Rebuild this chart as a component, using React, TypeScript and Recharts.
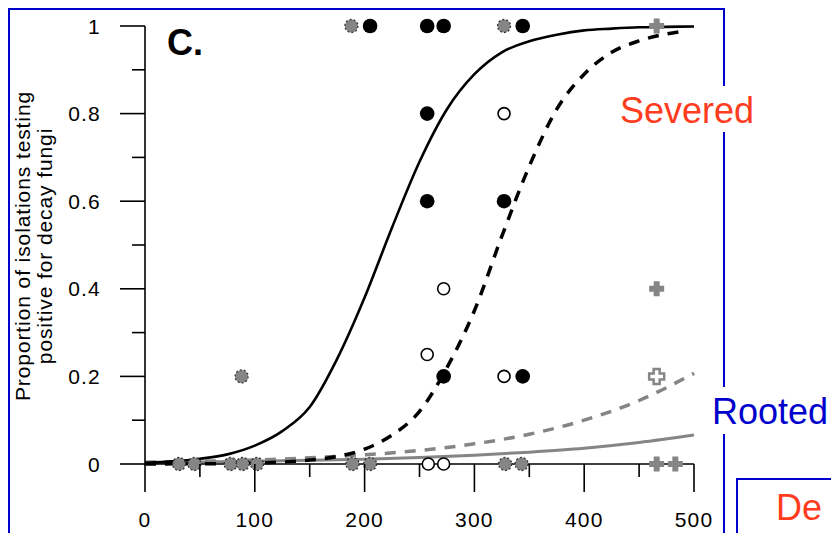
import React from 'react';
import { ComposedChart, Line, Scatter, XAxis, YAxis } from 'recharts';

// ---- tick definitions ----
const xTicks = [0, 50, 100, 150, 200, 250, 300, 350, 400, 450, 500];
const xTickLabels = ['0', '', '100', '', '200', '', '300', '', '400', '', '500'];
const yTicks = [0, 0.1, 0.2, 0.3, 0.4, 0.5, 0.6, 0.7, 0.8, 0.9, 1];
const yTickLabels = ['0', '', '0.2', '', '0.4', '', '0.6', '', '0.8', '', '1'];

// ---- fitted curves ----
const severedSolidX = [0, 25, 50, 75, 100, 125, 150, 175, 200, 225, 250, 275, 300, 325, 350, 375, 400, 425, 450, 475, 500];
const severedSolidY = [0.003, 0.006, 0.012, 0.022, 0.042, 0.075, 0.13, 0.24, 0.38, 0.54, 0.69, 0.81, 0.89, 0.94, 0.965, 0.98, 0.99, 0.994, 0.997, 0.998, 0.999];

const severedDashX = [0, 25, 50, 75, 100, 125, 150, 175, 200, 225, 250, 275, 300, 325, 350, 375, 400, 425, 450, 475, 490];
const severedDashY = [0.0002, 0.0003, 0.0006, 0.001, 0.002, 0.0045, 0.009, 0.017, 0.034, 0.066, 0.12, 0.22, 0.35, 0.52, 0.68, 0.81, 0.89, 0.94, 0.966, 0.982, 0.988];

const rootedDashX = [0, 50, 100, 150, 200, 250, 300, 350, 400, 450, 500];
const rootedDashY = [0.004, 0.006, 0.009, 0.014, 0.021, 0.031, 0.046, 0.068, 0.1, 0.145, 0.207];

const rootedSolidX = [0, 100, 200, 250, 300, 350, 400, 450, 500];
const rootedSolidY = [0.003, 0.006, 0.011, 0.015, 0.02, 0.027, 0.036, 0.049, 0.066];

// ---- observations ----
const blackFilledX = [205, 257, 272, 344, 257, 257, 327, 272, 344];
const blackFilledY = [1, 1, 1, 1, 0.8, 0.6, 0.6, 0.2, 0.2];

const openBlackX = [327, 272, 257, 327, 258, 272];
const openBlackY = [0.8, 0.4, 0.25, 0.2, 0, 0];

const grayDotX = [188, 327, 88, 31, 45, 78, 89, 102, 189, 205, 328, 343];
const grayDotY = [1, 1, 0.2, 0, 0, 0, 0, 0, 0, 0, 0, 0];

const grayPlusX = [466, 466, 466, 483];
const grayPlusY = [1, 0.4, 0, 0];

const grayOpenPlusX = [466];
const grayOpenPlusY = [0.2];

const zip = (xs: number[], ys: number[]) => xs.map((x, i) => ({ x, y: ys[i] }));

const severedSolid = zip(severedSolidX, severedSolidY);
const severedDash = zip(severedDashX, severedDashY);
const rootedDash = zip(rootedDashX, rootedDashY);
const rootedSolid = zip(rootedSolidX, rootedSolidY);
const blackFilled = zip(blackFilledX, blackFilledY);
const openBlack = zip(openBlackX, openBlackY);
const grayDot = zip(grayDotX, grayDotY);
const grayPlus = zip(grayPlusX, grayPlusY);
const grayOpenPlus = zip(grayOpenPlusX, grayOpenPlusY);

const FONT = '"Liberation Sans", Arial, sans-serif';
const GRAY = '#858585';
const BLUE = '#0000cc';
const RED = '#ff3c1e';

const XTick = (props: any) => {
  const { x, y, payload } = props;
  const idx = xTicks.indexOf(payload.value);
  const label = xTickLabels[idx] ?? '';
  const major = label !== '';
  return (
    <g>
      <line x1={x} x2={x} y1={y} y2={y + (major ? 28 : 13)} stroke="#000" strokeWidth={1.6} />
      {major && (
        <text x={x} y={y + 63} textAnchor="middle" fontFamily={FONT} fontSize={21} letterSpacing={1.2} fill="#000">
          {label}
        </text>
      )}
    </g>
  );
};

const YTick = (props: any) => {
  const { x, y, payload } = props;
  const idx = yTicks.findIndex((t) => Math.abs(t - payload.value) < 1e-6);
  const label = yTickLabels[idx] ?? '';
  const major = label !== '';
  return (
    <g>
      <line x1={x} x2={x - (major ? 25 : 13)} y1={y} y2={y} stroke="#000" strokeWidth={1.6} />
      {major && (
        <text x={x - 44} y={y + 7.5} textAnchor="end" fontFamily={FONT} fontSize={21} letterSpacing={1.2} fill="#000">
          {label}
        </text>
      )}
    </g>
  );
};

const BlackDot = (p: any) => <circle cx={p.cx} cy={p.cy} r={7.3} fill="#000" />;
const OpenDot = (p: any) => <circle cx={p.cx} cy={p.cy} r={6} fill="#fff" stroke="#000" strokeWidth={1.6} />;
const GrayDot = (p: any) => (
  <circle cx={p.cx} cy={p.cy} r={6.5} fill={GRAY} stroke="#333" strokeWidth={1.3} strokeDasharray="2 2" />
);
const plusPath = (cx: number, cy: number) => {
  const a = 7.5, b = 3;
  return `M${cx - b},${cy - a} H${cx + b} V${cy - b} H${cx + a} V${cy + b} H${cx + b} V${cy + a} H${cx - b} V${cy + b} H${cx - a} V${cy - b} H${cx - b} Z`;
};
const GrayPlus = (p: any) => <path d={plusPath(p.cx, p.cy)} fill={GRAY} />;
const GrayOpenPlus = (p: any) => <path d={plusPath(p.cx, p.cy)} fill="#fff" stroke={GRAY} strokeWidth={2.5} />;

export default function App() {
  return (
    <div style={{ position: 'absolute', left: 0, top: 0, width: 831, height: 533, background: '#fff' }}>
      <ComposedChart width={831} height={533} margin={{ top: 26, right: 137, bottom: 9, left: 45 }}>
        <XAxis
          type="number"
          dataKey="x"
          domain={[0, 500]}
          ticks={xTicks}
          interval={0}
          tick={<XTick />}
          tickLine={false}
          tickSize={0}
          tickMargin={0}
          height={60}
          axisLine={{ stroke: '#000', strokeWidth: 1.6 }}
        />
        <YAxis
          type="number"
          domain={[0, 1]}
          ticks={yTicks}
          interval={0}
          tick={<YTick />}
          tickLine={false}
          tickSize={0}
          tickMargin={0}
          width={100}
          axisLine={{ stroke: '#000', strokeWidth: 1.6 }}
        />
        <Line data={rootedSolid} dataKey="y" type="monotone" stroke={GRAY} strokeWidth={3} dot={false} activeDot={false} isAnimationActive={false} />
        <Line data={rootedDash} dataKey="y" type="monotone" stroke={GRAY} strokeWidth={3.5} strokeDasharray="11 9" dot={false} activeDot={false} isAnimationActive={false} />
        <Line data={severedSolid} dataKey="y" type="monotone" stroke="#000" strokeWidth={2.6} dot={false} activeDot={false} isAnimationActive={false} />
        <Line data={severedDash} dataKey="y" type="monotone" stroke="#000" strokeWidth={3.5} strokeDasharray="11 9" dot={false} activeDot={false} isAnimationActive={false} />
        <Scatter data={grayDot} dataKey="y" shape={<GrayDot />} isAnimationActive={false} />
        <Scatter data={blackFilled} dataKey="y" shape={<BlackDot />} isAnimationActive={false} />
        <Scatter data={openBlack} dataKey="y" shape={<OpenDot />} isAnimationActive={false} />
        <Scatter data={grayPlus} dataKey="y" shape={<GrayPlus />} isAnimationActive={false} />
        <Scatter data={grayOpenPlus} dataKey="y" shape={<GrayOpenPlus />} isAnimationActive={false} />
      </ComposedChart>
      <svg width={831} height={533} style={{ position: 'absolute', left: 0, top: 0, pointerEvents: 'none' }}>
        {/* frame lines */}
        <line x1={9} x2={725} y1={9} y2={9} stroke={BLUE} strokeWidth={2} />
        <line x1={9} x2={9} y1={8} y2={533} stroke={BLUE} strokeWidth={2} />
        <line x1={724} x2={724} y1={8} y2={86} stroke={BLUE} strokeWidth={2} />
        <line x1={724} x2={724} y1={132} y2={387} stroke={BLUE} strokeWidth={2} />
        <line x1={724} x2={724} y1={434} y2={533} stroke={BLUE} strokeWidth={2} />
        <line x1={737} x2={831} y1={479} y2={479} stroke={BLUE} strokeWidth={2} />
        <line x1={737} x2={737} y1={478} y2={533} stroke={BLUE} strokeWidth={2} />
        {/* panel letter */}
        <text x={167} y={55} fontFamily={FONT} fontSize={36} fontWeight="bold" fill="#000">C.</text>
        {/* y-axis title */}
        <text x={30} y={246} transform="rotate(-90 30 246)" textAnchor="middle" fontFamily={FONT} fontSize={21} letterSpacing={0.9} fill="#000">
          Proportion of isolations testing
        </text>
        <text x={52} y={246} transform="rotate(-90 52 246)" textAnchor="middle" fontFamily={FONT} fontSize={21} letterSpacing={0.9} fill="#000">
          positive for decay fungi
        </text>
        {/* annotations */}
        <text x={620} y={123} fontFamily={FONT} fontSize={36} fill={RED}>Severed</text>
        <text x={712} y={424} fontFamily={FONT} fontSize={36} fill={BLUE}>Rooted</text>
        <text x={776} y={520} fontFamily={FONT} fontSize={36} fill={RED}>De</text>
      </svg>
    </div>
  );
}
